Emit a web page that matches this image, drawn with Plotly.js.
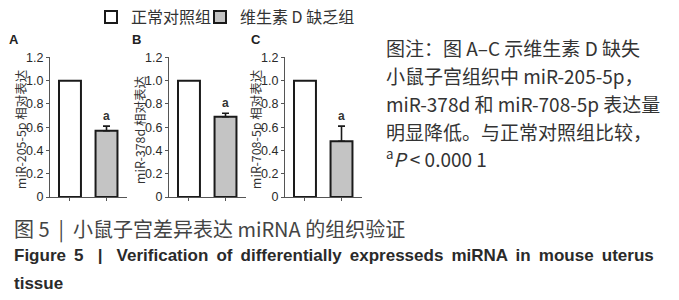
<!DOCTYPE html>
<html>
<head>
<meta charset="utf-8">
<script src="https://cdn.plot.ly/plotly-3.0.1.min.js"></script>
<style>html,body{margin:0;padding:0;background:#fff;}#chart{width:679px;height:300px;}</style>
</head>
<body>
<div id="chart"></div>
<script>
// ---- data ----
const panelLetters = ['A', 'B', 'C'];
const yTitles = ['miR-205-5p 相对表达', 'miR-378d 相对表达', 'miR-708-5p 相对表达'];
const groups = ['正常对照组', '维生素 D 缺乏组'];
const controlValues = [1.0, 1.0, 1.0];
const deficientValues = [0.57, 0.69, 0.48];
const deficientErrors = [0.04, 0.03, 0.13];
const sigLabels = ['a', 'a', 'a'];
const yTickVals = [0, 0.2, 0.4, 0.6, 0.8, 1.0, 1.2];
const yTickText = ['0', '0.2', '0.4', '0.6', '0.8', '1.0', '1.2'];
const noteLines = [
  '图注：图 A–C 示维生素 D 缺失',
  '小鼠子宫组织中 miR-205-5p，',
  'miR-378d 和 miR-708-5p 表达量',
  '明显降低。与正常对照组比较，',
  '<sup>a</sup><i>P</i> &lt; 0.000 1'
];
const captionCN = '图 5  |  小鼠子宫差异表达 miRNA 的组织验证';
const captionEN1 = 'Figure 5\u00a0\u00a0\u00a0|\u00a0\u00a0\u00a0Verification of differentially expresseds miRNA in mouse uterus';
const captionEN2 = 'tissue';

// ---- layout helpers ----
const W = 679, H = 300;
const px = x => x / W;
const py = y => 1 - y / H;
const axisLeft = [49.9, 168.9, 284.9];
const letterX = [14, 136, 256];
const axisWidth = 76.7;
const plotTop = 55, plotBottom = 196;
const textColor = '#333333';
const lineColor = '#1a1a1a';
const CJK = '"Noto Sans CJK SC", "Liberation Sans", sans-serif';
const LAT = '"Liberation Sans", "Noto Sans", sans-serif';
const spaced = s => s.split(' ').join(' \u2009');

const legendStyle = x => ({
  orientation: 'h', x: px(x), y: py(-3), xanchor: 'left', yanchor: 'top',
  font: {family: CJK, size: 16, color: textColor},
  bgcolor: 'rgba(0,0,0,0)', borderwidth: 0, itemclick: false
});

const traces = [];
const layout = {
  width: W, height: H,
  margin: {l: 0, r: 0, t: 0, b: 0},
  paper_bgcolor: '#ffffff', plot_bgcolor: '#ffffff',
  barmode: 'overlay',
  showlegend: true,
  legend: legendStyle(91),
  legend2: legendStyle(200),
  annotations: [],
  font: {family: LAT, color: textColor}
};

panelLetters.forEach((letter, i) => {
  const n = i + 1;
  const xa = 'x' + (n === 1 ? '' : n);
  const ya = 'y' + (n === 1 ? '' : n);
  traces.push({
    type: 'bar', name: groups[0], legend: 'legend', showlegend: i === 0,
    x: [groups[0]], y: [controlValues[i]], width: 0.6,
    xaxis: xa, yaxis: ya,
    marker: {color: '#ffffff', line: {color: lineColor, width: 2}},
    hoverinfo: 'skip'
  });
  traces.push({
    type: 'bar', name: groups[1], legend: 'legend2', showlegend: i === 0,
    x: [groups[1]], y: [deficientValues[i]], width: 0.6,
    xaxis: xa, yaxis: ya,
    marker: {color: '#c4c4c4', line: {color: lineColor, width: 2}},
    error_y: {type: 'data', symmetric: false, array: [deficientErrors[i]], arrayminus: [0],
              color: lineColor, thickness: 1.6, width: 3.5},
    hoverinfo: 'skip'
  });
  const xKey = 'xaxis' + (n === 1 ? '' : n);
  const yKey = 'yaxis' + (n === 1 ? '' : n);
  layout[xKey] = {
    domain: [px(axisLeft[i]), px(axisLeft[i] + axisWidth)],
    anchor: ya, type: 'category', categoryorder: 'array', categoryarray: groups,
    range: [-0.55, 1.55], showline: true, linecolor: '#555555', linewidth: 1,
    ticks: 'outside', ticklen: 3, tickcolor: '#555555', showticklabels: false,
    showgrid: false, zeroline: false, fixedrange: true
  };
  layout[yKey] = {
    domain: [py(plotBottom), py(plotTop)],
    anchor: xa, range: [0, 1.2],
    tickvals: yTickVals, ticktext: yTickText,
    showline: true, linecolor: '#555555', linewidth: 1,
    ticks: 'outside', ticklen: 3, tickcolor: '#555555',
    tickfont: {family: LAT, size: 12.5, color: '#2a2a2a'},
    showgrid: false, zeroline: false, fixedrange: true
  };
  // y title
  layout.annotations.push({
    xref: 'paper', yref: 'paper', x: px(axisLeft[i] - 30), y: py((plotTop + plotBottom) / 2 + 2),
    text: yTitles[i], textangle: -90, showarrow: false,
    xanchor: 'center', yanchor: 'middle',
    font: {family: CJK, size: 12.5, color: textColor}
  });
  // panel letter
  layout.annotations.push({
    xref: 'paper', yref: 'paper', x: px(letterX[i]), y: py(37),
    text: '<b>' + letter + '</b>', showarrow: false, xanchor: 'center', yanchor: 'middle',
    font: {family: LAT, size: 13, color: '#222222'}
  });
  // significance label
  layout.annotations.push({
    xref: xa, yref: ya, x: groups[1], y: deficientValues[i] + deficientErrors[i],
    text: '<b>' + sigLabels[i] + '</b>', showarrow: false, xanchor: 'center', yanchor: 'bottom',
    yshift: 1, font: {family: LAT, size: 12, color: textColor}
  });
});

// note text on the right
const noteY = [45, 73, 102, 130, 157];
noteLines.forEach((t, k) => {
  layout.annotations.push({
    xref: 'paper', yref: 'paper', x: px(384), y: py(noteY[k]),
    text: t, showarrow: false, xanchor: 'left', yanchor: 'middle',
    font: {family: CJK, size: 19, color: textColor}
  });
});

// caption
layout.annotations.push({
  xref: 'paper', yref: 'paper', x: px(12), y: py(228), text: captionCN,
  showarrow: false, xanchor: 'left', yanchor: 'middle',
  font: {family: CJK, size: 20, color: '#444444'}
});
layout.annotations.push({
  xref: 'paper', yref: 'paper', x: px(12), y: py(255), text: '<b>' + spaced(captionEN1) + '</b>',
  showarrow: false, xanchor: 'left', yanchor: 'middle',
  font: {family: LAT, size: 17, color: '#2a2a2a'}
});
layout.annotations.push({
  xref: 'paper', yref: 'paper', x: px(12), y: py(283), text: '<b>' + captionEN2 + '</b>',
  showarrow: false, xanchor: 'left', yanchor: 'middle',
  font: {family: LAT, size: 17, color: '#2a2a2a'}
});

Plotly.newPlot('chart', traces, layout, {staticPlot: true, displayModeBar: false});
</script>
</body>
</html>
